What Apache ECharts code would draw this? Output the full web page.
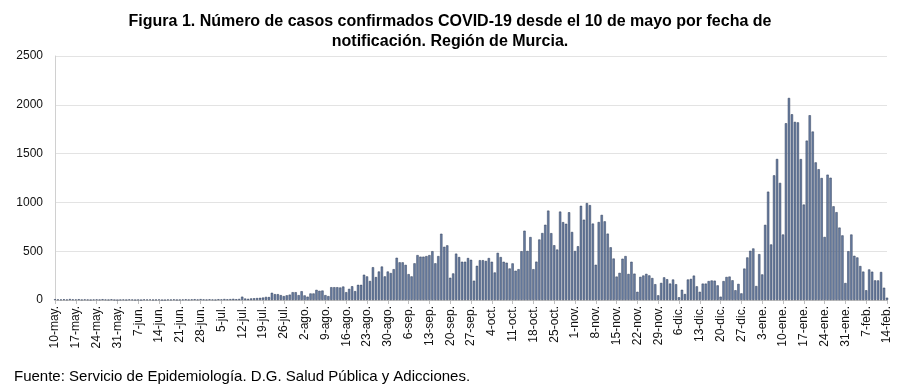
<!DOCTYPE html>
<html><head><meta charset="utf-8">
<script src="https://cdn.jsdelivr.net/npm/echarts@6/dist/echarts.min.js"></script>
<style>html,body{margin:0;padding:0;background:#fff}#c{width:900px;height:386px}</style>
</head><body><div id="c"></div>
<script>
// Daily confirmed cases, Región de Murcia, 10-may-2020 .. 14-feb-2021
const casesMay = [8,6,5,7,4,10,6,5,8,3,6,4,2,5,6,4,8,5,3,7,2,0];
const casesJun = [3,5,2,6,4,1,3,0,6,4,5,2,3,5,0,0,4,3,6,2,3,5,7,4,6,8,5,9,6,4];
const casesJul = [7,5,3,8,6,10,7,9,12,8,11,34,15,12,16,18,20,22,25,32,30,74,60,60,50,40,48,55,80,80,50];
const casesAgo = [90,47,34,67,67,104,94,97,50,40,131,131,131,128,138,80,114,141,91,155,155,259,242,195,336,235,292,343,242,292,276];
const casesSep = [316,433,386,386,360,265,242,376,460,444,444,450,460,500,376,450,679,545,560,228,272,475,440,392,392,430,412,198,350,408];
const casesOct = [408,400,430,392,282,483,440,392,382,323,375,300,316,500,710,503,645,316,393,620,686,771,916,685,561,517,906,798,781,899,697];
const casesNov = [502,551,965,823,993,972,783,361,799,872,806,680,540,425,240,278,423,450,267,392,270,84,237,251,268,252,225,162,48,175];
const casesDic = [232,213,168,210,162,28,105,61,210,216,250,140,84,168,168,194,200,198,150,34,194,236,240,202,100,165,68,322,436,504,528];
const casesEne = [143,470,262,770,1110,569,1277,1445,1200,671,1811,2070,1903,1825,1820,1444,978,1633,1893,1726,1410,1340,1250,646,1284,1253,960,900,742,662,174];
const casesFeb = [500,671,453,436,348,291,100,313,290,201,201,287,126,24];

const monthNames = ['may.','jun.','jul.','ago.','sep.','oct.','nov.','dic.','ene.','feb.'];
const monthStartDay = [10,1,1,1,1,1,1,1,1,1];
const monthSeries = [casesMay,casesJun,casesJul,casesAgo,casesSep,casesOct,casesNov,casesDic,casesEne,casesFeb];
const yTicks = [0,500,1000,1500,2000,2500];

const categories = [];
const values = [];
monthSeries.forEach((arr,mi)=>{
  arr.forEach((v,i)=>{
    categories.push((monthStartDay[mi]+i)+'-'+monthNames[mi]);
    values.push(v);
  });
});

const chart = echarts.init(document.getElementById('c'), null, {renderer:'canvas'});
chart.setOption({
  animation:false,
  backgroundColor:'#fff',
  title:[{
    text:'Figura 1. Número de casos confirmados COVID-19 desde el 10 de mayo por fecha de\nnotificación. Región de Murcia.',
    left:445, top:7, textAlign:'center',
    textStyle:{fontFamily:'Liberation Sans, Arial, sans-serif',fontWeight:'bold',fontSize:16,color:'#000',lineHeight:20}
  },{
    text:'Fuente: Servicio de Epidemiología. D.G. Salud Pública y Adicciones.',
    left:9, top:364,
    textStyle:{fontFamily:'Liberation Sans, Arial, sans-serif',fontWeight:'normal',fontSize:15,color:'#000'}
  }],
  grid:{left:55,right:13,top:56,bottom:86,containLabel:false},
  xAxis:{
    type:'category', data:categories, boundaryGap:false,
    axisLine:{lineStyle:{color:'#bfbfbf'}},
    axisTick:{interval:6,length:4,lineStyle:{color:'#bfbfbf'}},
    axisLabel:{interval:6,rotate:90,fontSize:12,color:'#111',margin:6,fontFamily:'Liberation Sans, Arial, sans-serif'}
  },
  yAxis:{
    type:'value', min:yTicks[0], max:yTicks[yTicks.length-1], interval:500,
    axisLine:{show:true,lineStyle:{color:'#d0d0d0'}},
    axisTick:{show:false},
    splitLine:{lineStyle:{color:'#e3e3e3',width:1}},
    axisLabel:{fontSize:12,color:'#111',margin:12,fontFamily:'Liberation Sans, Arial, sans-serif',formatter:v=>String(v)}
  },
  series:[{
    type:'bar', data:values, barWidth:2.3,
    itemStyle:{color:'#6a7fa3',borderColor:'#2c3a57',borderWidth:0.5}
  }]
});
</script></body></html>
